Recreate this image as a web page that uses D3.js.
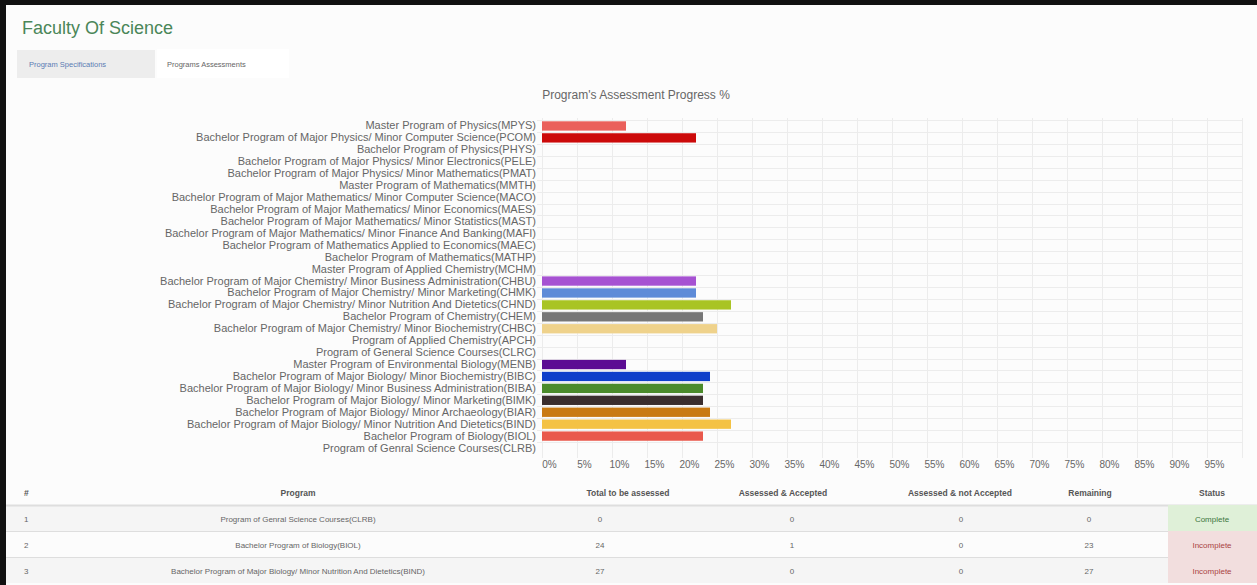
<!DOCTYPE html>
<html>
<head>
<meta charset="utf-8">
<script src="https://cdn.jsdelivr.net/npm/d3@7"></script>
<style>
  html, body { margin: 0; padding: 0; background: #fcfcfc; }
  svg { display: block; font-family: "Liberation Sans", Arial, Helvetica, sans-serif; }
</style>
</head>
<body>
<svg id="page"></svg>
<script>
const width = 1257;
const height = 585;

const programs = [
  "Master Program of Physics(MPYS)",
  "Bachelor Program of Major Physics/ Minor Computer Science(PCOM)",
  "Bachelor Program of Physics(PHYS)",
  "Bachelor Program of Major Physics/ Minor Electronics(PELE)",
  "Bachelor Program of Major Physics/ Minor Mathematics(PMAT)",
  "Master Program of Mathematics(MMTH)",
  "Bachelor Program of Major Mathematics/ Minor Computer Science(MACO)",
  "Bachelor Program of Major Mathematics/ Minor Economics(MAES)",
  "Bachelor Program of Major Mathematics/ Minor Statistics(MAST)",
  "Bachelor Program of Major Mathematics/ Minor Finance And Banking(MAFI)",
  "Bachelor Program of Mathematics Applied to Economics(MAEC)",
  "Bachelor Program of Mathematics(MATHP)",
  "Master Program of Applied Chemistry(MCHM)",
  "Bachelor Program of Major Chemistry/ Minor Business Administration(CHBU)",
  "Bachelor Program of Major Chemistry/ Minor Marketing(CHMK)",
  "Bachelor Program of Major Chemistry/ Minor Nutrition And Dietetics(CHND)",
  "Bachelor Program of Chemistry(CHEM)",
  "Bachelor Program of Major Chemistry/ Minor Biochemistry(CHBC)",
  "Program of Applied Chemistry(APCH)",
  "Program of General Science Courses(CLRC)",
  "Master Program of Environmental Biology(MENB)",
  "Bachelor Program of Major Biology/ Minor Biochemistry(BIBC)",
  "Bachelor Program of Major Biology/ Minor Business Administration(BIBA)",
  "Bachelor Program of Major Biology/ Minor Marketing(BIMK)",
  "Bachelor Program of Major Biology/ Minor Archaeology(BIAR)",
  "Bachelor Program of Major Biology/ Minor Nutrition And Dietetics(BIND)",
  "Bachelor Program of Biology(BIOL)",
  "Program of Genral Science Courses(CLRB)"
];

const progress = [12, 22, 0, 0, 0, 0, 0, 0, 0, 0, 0, 0, 0, 22, 22, 27, 23, 25, 0, 0, 12, 24, 23, 23, 24, 27, 23, 0];

const barColors = [
  "#ea605b", "#cc0a0a", "#ccc", "#ccc", "#ccc", "#ccc", "#ccc", "#ccc", "#ccc", "#ccc",
  "#ccc", "#ccc", "#ccc", "#a652d2", "#5e8bd8", "#a9c424", "#777777", "#efd28b", "#ccc", "#ccc",
  "#5c0c93", "#0f3fca", "#4b8b2b", "#3b2e2e", "#c97a13", "#f4c244", "#e9594c", "#ccc"
];

const xTicks = [0, 5, 10, 15, 20, 25, 30, 35, 40, 45, 50, 55, 60, 65, 70, 75, 80, 85, 90, 95];
const gridTicks = [0, 5, 10, 15, 20, 25, 30, 35, 40, 45, 50, 55, 60, 65, 70, 75, 80, 85, 90, 95, 100];

const tableHeaders = ["#", "Program", "Total to be assessed", "Assessed & Accepted", "Assessed & not Accepted", "Remaining", "Status"];
const tableRows = [
  ["1", "Program of Genral Science Courses(CLRB)", "0", "0", "0", "0", "Complete"],
  ["2", "Bachelor Program of Biology(BIOL)", "24", "1", "0", "23", "Incomplete"],
  ["3", "Bachelor Program of Major Biology/ Minor Nutrition And Dietetics(BIND)", "27", "0", "0", "27", "Incomplete"]
];

const svg = d3.select("#page").attr("width", width).attr("height", height);

// frame
svg.append("rect").attr("x", 0).attr("y", 0).attr("width", width).attr("height", height).attr("fill", "#fcfcfc");
svg.append("rect").attr("x", 0).attr("y", 0).attr("width", 6).attr("height", height).attr("fill", "#111");
svg.append("rect").attr("x", 0).attr("y", 0).attr("width", width).attr("height", 5).attr("fill", "#111");

svg.append("text")
  .attr("x", 22).attr("y", 34)
  .attr("font-size", 18)
  .attr("fill", "#4a8658")
  .text("Faculty Of Science");

// tabs
svg.append("rect").attr("x", 17).attr("y", 50).attr("width", 138).attr("height", 28).attr("fill", "#ededed");
svg.append("text").attr("x", 29).attr("y", 67).attr("font-size", 7.5).attr("fill", "#5b7cb4").text("Program Specifications");
svg.append("rect").attr("x", 157).attr("y", 49).attr("width", 132).attr("height", 29).attr("fill", "#fff");
svg.append("text").attr("x", 167).attr("y", 67).attr("font-size", 7.5).attr("fill", "#666").text("Programs Assessments");

// chart
svg.append("text")
  .attr("x", 636).attr("y", 99)
  .attr("text-anchor", "middle")
  .attr("font-size", 12)
  .attr("fill", "#666")
  .text("Program's Assessment Progress %");

const x = d3.scaleLinear().domain([0, 100]).range([542, 1242]);
const y = d3.scaleBand().domain(programs).range([120, 454]).paddingInner(0.22).paddingOuter(0.11);
const step = y.step();

const grid = svg.append("g").attr("stroke", "#ececec").attr("stroke-width", 1);
grid.selectAll("line.v")
  .data(gridTicks)
  .join("line")
  .attr("class", "v")
  .attr("x1", d => Math.round(x(d)) + 0.5)
  .attr("x2", d => Math.round(x(d)) + 0.5)
  .attr("y1", 118)
  .attr("y2", 458);
grid.selectAll("line.h")
  .data(programs)
  .join("line")
  .attr("class", "h")
  .attr("x1", x(0) - 5)
  .attr("x2", x(100))
  .attr("y1", d => Math.round(y(d) - (step - y.bandwidth()) / 2) + 0.5)
  .attr("y2", d => Math.round(y(d) - (step - y.bandwidth()) / 2) + 0.5);

svg.append("g")
  .selectAll("rect")
  .data(programs)
  .join("rect")
  .attr("x", x(0))
  .attr("y", d => y(d))
  .attr("width", (d, i) => x(progress[i]) - x(0))
  .attr("height", y.bandwidth())
  .attr("fill", (d, i) => barColors[i]);

const yAxis = d3.axisLeft(y).tickSize(0).tickPadding(6);
const yg = svg.append("g").attr("transform", `translate(${x(0)},0)`).call(yAxis);
yg.select(".domain").remove();
yg.selectAll("text").attr("font-size", 11).attr("fill", "#666").attr("font-family", null);

const xAxis = d3.axisBottom(x).tickValues(xTicks).tickSize(0).tickPadding(5).tickFormat(d => `${d}%`);
const xg = svg.append("g").attr("transform", "translate(7,456)").call(xAxis);
xg.select(".domain").remove();
xg.selectAll("text").attr("font-size", 10).attr("fill", "#666").attr("font-family", null);

// table
const headX = [24, 298, 628, 783, 960, 1090, 1212];
const colX = [24, 298, 600, 792, 961, 1089, 1212];
const colAnchor = ["start", "middle", "middle", "middle", "middle", "middle", "middle"];
const rowTop = 505;
const rowH = 26;

const table = svg.append("g");
table.append("rect").attr("x", 6).attr("y", 478).attr("width", width - 6).attr("height", 27).attr("fill", "#fcfcfc");
table.selectAll("text.h")
  .data(tableHeaders)
  .join("text")
  .attr("class", "h")
  .attr("x", (d, i) => headX[i])
  .attr("y", 496)
  .attr("text-anchor", (d, i) => colAnchor[i])
  .attr("font-size", 8.5)
  .attr("font-weight", "bold")
  .attr("fill", "#555")
  .text(d => d);

const rows = table.selectAll("g.row")
  .data(tableRows)
  .join("g")
  .attr("class", "row")
  .attr("transform", (d, i) => `translate(0,${rowTop + i * rowH})`);

rows.append("rect")
  .attr("x", 6).attr("y", 0)
  .attr("width", width - 6).attr("height", rowH)
  .attr("fill", (d, i) => i % 2 === 0 ? "#f5f5f5" : "#fcfcfc");
rows.append("line")
  .attr("x1", 6).attr("x2", width)
  .attr("y1", 0.5).attr("y2", 0.5)
  .attr("stroke", "#dedede")
  .attr("stroke-width", (d, i) => i === 0 ? 2 : 1);
rows.append("rect")
  .attr("x", 1168).attr("y", 0)
  .attr("width", width - 1168).attr("height", rowH)
  .attr("fill", d => d[6] === "Complete" ? "#dff0d8" : "#f2dede");

rows.selectAll("text")
  .data(d => d)
  .join("text")
  .attr("x", (d, i) => colX[i])
  .attr("y", 17)
  .attr("text-anchor", (d, i) => colAnchor[i])
  .attr("font-size", 8)
  .attr("fill", (d, i) => i < 6 ? "#666" : (d === "Complete" ? "#3c763d" : "#a94442"))
  .text(d => d);
</script>
</body>
</html>
